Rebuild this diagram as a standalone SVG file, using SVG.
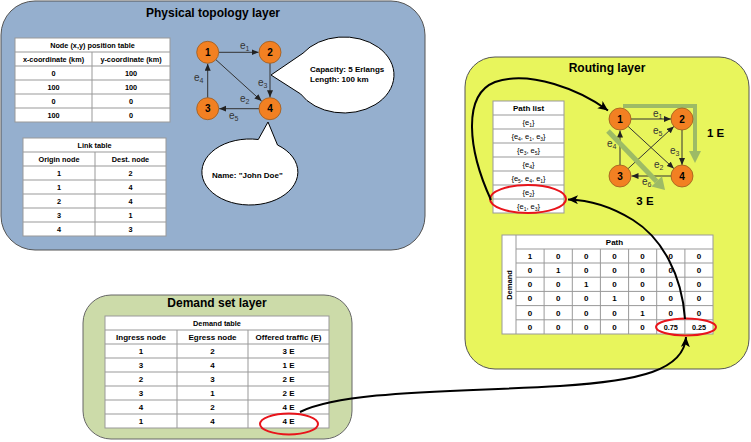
<svg xmlns="http://www.w3.org/2000/svg" width="751" height="442" viewBox="0 0 751 442">
<defs>
<style>
text{font-family:"Liberation Sans",Arial,sans-serif;fill:#000}
.tb{font-weight:bold;text-anchor:middle}
.f7{font-size:7.3px}
.f8{font-size:8px}
.tn{font-weight:normal;text-anchor:middle;font-size:7.5px}
.title{font-weight:bold;font-size:12px;text-anchor:middle}
.tbl{fill:#fff;stroke:#999;stroke-width:1}
.grid{stroke:#999;stroke-width:1;fill:none}
.node{fill:#F28022;stroke:#9B5A1E;stroke-width:0.8}
.nl{font-weight:bold;font-size:10px;text-anchor:middle}
.edge{stroke:#333;stroke-width:1;fill:none;marker-end:url(#a)}
.el{font-size:10px;fill:#333}
.gr{stroke:#9DBB66;fill:none}
.conn{stroke:#000;stroke-width:2;fill:none;marker-end:url(#b)}
.red{fill:none;stroke:#E8141B;stroke-width:2}
.call{fill:#fff;stroke:#000;stroke-width:1}
</style>
<marker id="a" markerUnits="userSpaceOnUse" markerWidth="8" markerHeight="8" refX="7" refY="3" orient="auto"><path d="M0,0 L7,3 L0,6 Z" fill="#222"/></marker>
<marker id="b" markerUnits="userSpaceOnUse" markerWidth="12" markerHeight="12" refX="10" refY="4.5" orient="auto"><path d="M0,0 L10,4.5 L0,9 L2.5,4.5 Z" fill="#000"/></marker>
</defs>

<!-- Physical topology layer -->
<g id="physical-layer">
<rect x="1" y="1" width="424" height="249" rx="34" fill="#95AFCE" stroke="#555" stroke-width="1"/>
<text class="title" x="213" y="17">Physical topology layer</text>
</g>

<g id="node-position-table">
<rect class="tbl" x="15" y="38" width="155" height="84"/>
<path class="grid" d="M15,52H170M15,66H170M15,80H170M15,94H170M15,108H170M92,52V122"/>
<text class="tb f7" x="92.5" y="48">Node (x,y) position table</text>
<text class="tb f7" x="53.5" y="62">x-coordinate (km)</text>
<text class="tb f7" x="131" y="62">y-coordinate (km)</text>
<text class="tb f7" x="53.5" y="76">0</text><text class="tb f7" x="131" y="76">100</text>
<text class="tb f7" x="53.5" y="90">100</text><text class="tb f7" x="131" y="90">100</text>
<text class="tb f7" x="53.5" y="104">0</text><text class="tb f7" x="131" y="104">0</text>
<text class="tb f7" x="53.5" y="118">100</text><text class="tb f7" x="131" y="118">0</text>
</g>

<g id="link-table">
<rect class="tbl" x="23" y="138" width="143" height="98"/>
<path class="grid" d="M23,152H166M23,166H166M23,180H166M23,194H166M23,208H166M23,222H166M95,152V236"/>
<text class="tb f7" x="94.5" y="148">Link table</text>
<text class="tb f7" x="59" y="162">Origin node</text>
<text class="tb f7" x="130.5" y="162">Dest. node</text>
<text class="tb f7" x="59" y="176">1</text><text class="tb f7" x="130.5" y="176">2</text>
<text class="tb f7" x="59" y="190">1</text><text class="tb f7" x="130.5" y="190">4</text>
<text class="tb f7" x="59" y="204">2</text><text class="tb f7" x="130.5" y="204">4</text>
<text class="tb f7" x="59" y="218">3</text><text class="tb f7" x="130.5" y="218">1</text>
<text class="tb f7" x="59" y="232">4</text><text class="tb f7" x="130.5" y="232">3</text>
</g>

<g id="callout-capacity">
<path class="call" d="M271,75 L303,53.2 A50,38 0 1 1 300.7,94 Z"/>
<text class="f8" font-weight="bold" x="310" y="72">Capacity: 5 Erlangs</text>
<text class="f8" font-weight="bold" x="310" y="82">Length: 100 km</text>
</g>

<g id="callout-name">
<path class="call" d="M268,122 L258.3,139.5 A48,33 0 1 0 277.5,145 Z"/>
<text class="f8" font-weight="bold" x="212" y="178">Name: "John Doe"</text>
</g>

<g id="physical-edges">
<line class="edge" x1="219" y1="52.3" x2="258.5" y2="52.3"/>
<line class="edge" x1="270" y1="63.3" x2="270" y2="97.3"/>
<line class="edge" x1="215.9" y1="59.7" x2="261.6" y2="101.1"/>
<line class="edge" x1="207.7" y1="97.7" x2="207.7" y2="63.8"/>
<line class="edge" x1="259" y1="108.7" x2="219.2" y2="108.7"/>
<text class="el" x="240" y="49">e<tspan font-size="7" dy="2">1</tspan></text>
<text class="el" x="258" y="86">e<tspan font-size="7" dy="2">3</tspan></text>
<text class="el" x="194" y="81">e<tspan font-size="7" dy="2">4</tspan></text>
<text class="el" x="240" y="102">e<tspan font-size="7" dy="2">2</tspan></text>
<text class="el" x="229" y="119">e<tspan font-size="7" dy="2">5</tspan></text>
</g>
<g id="p-node-1"><circle class="node" cx="207.7" cy="52.3" r="11"/><text class="nl" x="207.7" y="56">1</text></g>
<g id="p-node-2"><circle class="node" cx="270" cy="52.3" r="11"/><text class="nl" x="270" y="56">2</text></g>
<g id="p-node-3"><circle class="node" cx="207.7" cy="108.7" r="11"/><text class="nl" x="207.7" y="112.4">3</text></g>
<g id="p-node-4"><circle class="node" cx="270" cy="108.7" r="11"/><text class="nl" x="270" y="112.4">4</text></g>

<!-- Routing layer -->
<g id="routing-layer">
<rect x="465" y="57" width="284" height="312" rx="30" fill="#E8F55C" stroke="#555" stroke-width="1"/>
<text class="title" x="607" y="72">Routing layer</text>
</g>

<g id="path-list">
<rect class="tbl" x="493" y="101" width="71" height="112"/>
<path class="grid" d="M493,115H564M493,129H564M493,143H564M493,157H564M493,171H564M493,185H564M493,199H564"/>
<text class="tb f8" x="528.5" y="111">Path list</text>
<text class="tn" x="528.5" y="125">{e<tspan font-size="5" dy="1.5">1</tspan><tspan dy="-1.5">}</tspan></text>
<text class="tn" x="528.5" y="139">{e<tspan font-size="5" dy="1.5">4</tspan><tspan dy="-1.5">, e</tspan><tspan font-size="5" dy="1.5">1</tspan><tspan dy="-1.5">, e</tspan><tspan font-size="5" dy="1.5">3</tspan><tspan dy="-1.5">}</tspan></text>
<text class="tn" x="528.5" y="153">{e<tspan font-size="5" dy="1.5">3</tspan><tspan dy="-1.5">, e</tspan><tspan font-size="5" dy="1.5">5</tspan><tspan dy="-1.5">}</tspan></text>
<text class="tn" x="528.5" y="167">{e<tspan font-size="5" dy="1.5">4</tspan><tspan dy="-1.5">}</tspan></text>
<text class="tn" x="528.5" y="181">{e<tspan font-size="5" dy="1.5">5</tspan><tspan dy="-1.5">, e</tspan><tspan font-size="5" dy="1.5">4</tspan><tspan dy="-1.5">, e</tspan><tspan font-size="5" dy="1.5">1</tspan><tspan dy="-1.5">}</tspan></text>
<text class="tn" x="528.5" y="195">{e<tspan font-size="5" dy="1.5">2</tspan><tspan dy="-1.5">}</tspan></text>
<text class="tn" x="528.5" y="209">{e<tspan font-size="5" dy="1.5">1</tspan><tspan dy="-1.5">, e</tspan><tspan font-size="5" dy="1.5">3</tspan><tspan dy="-1.5">}</tspan></text>
<ellipse class="red" cx="528" cy="199" rx="38" ry="14"/>
</g>

<g id="routing-edges">
<line class="edge" x1="631" y1="119" x2="671" y2="119"/>
<line class="edge" x1="682" y1="130" x2="682" y2="165"/>
<line class="edge" x1="628.1" y1="126.4" x2="673.9" y2="168.6"/>
<line class="edge" x1="628.1" y1="168.6" x2="673.9" y2="126.4"/>
<line class="edge" x1="620" y1="165" x2="620" y2="130.5"/>
<line class="edge" x1="671" y1="176" x2="631.5" y2="176"/>
<text class="el" x="653" y="117">e<tspan font-size="7" dy="2">1</tspan></text>
<text class="el" x="653" y="134">e<tspan font-size="7" dy="2">5</tspan></text>
<text class="el" x="670" y="154">e<tspan font-size="7" dy="2">3</tspan></text>
<text class="el" x="654" y="168">e<tspan font-size="7" dy="2">2</tspan></text>
<text class="el" x="642" y="185">e<tspan font-size="7" dy="2">6</tspan></text>
<text class="el" x="607" y="147">e<tspan font-size="7" dy="2">4</tspan></text>
</g>

<g id="flow-arrows">
<path class="gr" stroke-width="4" d="M623,106 L695,106 L695,152"/>
<polygon points="689,151 701,151 695,163" fill="#9DBB66"/>
<line class="gr" stroke-width="5" x1="608" y1="131" x2="656.7" y2="181.4"/>
<polygon points="651.4,186.6 662,176.2 665,190" fill="#9DBB66"/>
<text class="title" x="707" y="137" text-anchor="start" style="text-anchor:start;font-size:11.5px">1 E</text>
<text class="title" x="645" y="205" style="font-size:11.5px">3 E</text>
</g>

<g id="r-node-1"><circle class="node" cx="620" cy="119" r="11"/><text class="nl" x="620" y="122.7">1</text></g>
<g id="r-node-2"><circle class="node" cx="682" cy="119" r="11"/><text class="nl" x="682" y="122.7">2</text></g>
<g id="r-node-3"><circle class="node" cx="620" cy="176" r="11"/><text class="nl" x="620" y="179.7">3</text></g>
<g id="r-node-4"><circle class="node" cx="682" cy="176" r="11"/><text class="nl" x="682" y="179.7">4</text></g>

<g id="path-matrix">
<rect class="tbl" x="502" y="235" width="211" height="99"/>
<path class="grid" d="M516,235V334M516,249H713M516,263H713M516,277.2H713M516,291.4H713M516,305.6H713M516,319.8H713M544.1,249V334M572.3,249V334M600.4,249V334M628.6,249V334M656.7,249V334M684.9,249V334"/>
<text class="tb f8" x="614.5" y="245">Path</text>
<text class="tb" font-size="7.5" transform="translate(511.5,285) rotate(-90)">Demand</text>
<g class="tb f8">
<text x="530" y="259">1</text><text x="558.2" y="259">0</text><text x="586.3" y="259">0</text><text x="614.5" y="259">0</text><text x="642.6" y="259">0</text><text x="670.8" y="259">0</text><text x="699" y="259">0</text>
<text x="530" y="273">0</text><text x="558.2" y="273">1</text><text x="586.3" y="273">0</text><text x="614.5" y="273">0</text><text x="642.6" y="273">0</text><text x="670.8" y="273">0</text><text x="699" y="273">0</text>
<text x="530" y="287.2">0</text><text x="558.2" y="287.2">0</text><text x="586.3" y="287.2">1</text><text x="614.5" y="287.2">0</text><text x="642.6" y="287.2">0</text><text x="670.8" y="287.2">0</text><text x="699" y="287.2">0</text>
<text x="530" y="301.4">0</text><text x="558.2" y="301.4">0</text><text x="586.3" y="301.4">0</text><text x="614.5" y="301.4">1</text><text x="642.6" y="301.4">0</text><text x="670.8" y="301.4">0</text><text x="699" y="301.4">0</text>
<text x="530" y="315.6">0</text><text x="558.2" y="315.6">0</text><text x="586.3" y="315.6">0</text><text x="614.5" y="315.6">0</text><text x="642.6" y="315.6">1</text><text x="670.8" y="315.6">0</text><text x="699" y="315.6">0</text>
<text x="530" y="329.8">0</text><text x="558.2" y="329.8">0</text><text x="586.3" y="329.8">0</text><text x="614.5" y="329.8">0</text><text x="642.6" y="329.8">0</text><text x="670.8" y="329.8" font-size="7.3">0.75</text><text x="699" y="329.8" font-size="7.3">0.25</text>
</g>
<ellipse class="red" cx="686" cy="327" rx="30" ry="8.5"/>
</g>

<!-- Demand set layer -->
<g id="demand-layer">
<rect x="83" y="295" width="269" height="144" rx="28" fill="#CCDBA9" stroke="#666" stroke-width="1"/>
<text class="title" x="217" y="307">Demand set layer</text>
</g>

<g id="demand-table">
<rect class="tbl" x="105" y="316" width="224" height="112"/>
<path class="grid" d="M105,330H329M105,344H329M105,358H329M105,372H329M105,386H329M105,400H329M105,414H329M177,330V428M248,330V428"/>
<text class="tb f7" x="217" y="326">Demand table</text>
<g class="tb f8">
<text x="141" y="340">Ingress node</text><text x="212.5" y="340">Egress node</text><text x="288.5" y="340">Offered traffic (E)</text>
<text x="141" y="354">1</text><text x="212.5" y="354">2</text><text x="288.5" y="354">3 E</text>
<text x="141" y="368">3</text><text x="212.5" y="368">4</text><text x="288.5" y="368">1 E</text>
<text x="141" y="382">2</text><text x="212.5" y="382">3</text><text x="288.5" y="382">2 E</text>
<text x="141" y="396">3</text><text x="212.5" y="396">1</text><text x="288.5" y="396">2 E</text>
<text x="141" y="410">4</text><text x="212.5" y="410">2</text><text x="288.5" y="410">4 E</text>
<text x="141" y="424">1</text><text x="212.5" y="424">4</text><text x="288.5" y="424">4 E</text>
</g>
<ellipse class="red" cx="289" cy="424" rx="29" ry="10.5"/>
</g>

<g id="connectors">
<path class="conn" d="M300,412 C345,390 460,392 560,386 C640,381 684,370 686,337"/>
<path class="conn" d="M685,319 C682,275 662,238 633,220 C612,207 592,200 568,199.5"/>
<path class="conn" d="M491,200 C468,150 462,95 495,82 C530,70 580,90 608,110.5"/>
</g>
</svg>
